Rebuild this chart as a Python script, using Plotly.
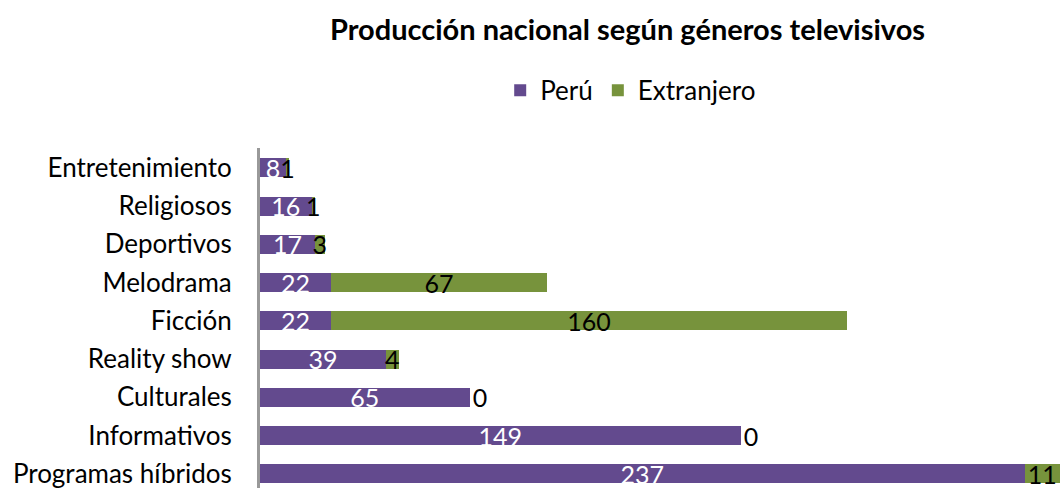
import plotly.graph_objects as go

categorias = ['Programas híbridos', 'Informativos', 'Culturales', 'Reality show', 'Ficción',
              'Melodrama', 'Deportivos', 'Religiosos', 'Entretenimiento']
peru = [237, 149, 65, 39, 22, 22, 17, 16, 8]
extranjero = [11, 0, 0, 4, 160, 67, 3, 1, 1]

FUENTE = 'Lato'
MORADO = '#634a8e'
VERDE = '#77933c'

# las barras de valor 0 no muestran texto 'inside', así que van 'outside'
pos_extranjero = ['inside' if v else 'outside' for v in extranjero]

fig = go.Figure()
fig.add_trace(go.Bar(
    y=categorias, x=peru, name='Perú', orientation='h',
    marker=dict(color=MORADO, line=dict(width=0)),
    text=peru, textposition='inside', insidetextanchor='middle', textangle=0,
    constraintext='none', textfont=dict(color='white', size=25, family=FUENTE),
    cliponaxis=False,
))
fig.add_trace(go.Bar(
    y=categorias, x=extranjero, name='Extranjero', orientation='h',
    marker=dict(color=VERDE, line=dict(width=0)),
    text=extranjero, textposition=pos_extranjero, insidetextanchor='middle', textangle=0,
    constraintext='none', textfont=dict(color='black', size=25, family=FUENTE),
    outsidetextfont=dict(color='black', size=25, family=FUENTE),
    cliponaxis=False,
))

fig.update_layout(
    barmode='stack',
    bargap=0.5,
    width=1060, height=488,
    title=dict(
        text='<b>Producción nacional según géneros televisivos</b>',
        x=0.592, xanchor='center', y=0.938, yanchor='middle',
        font=dict(size=29, color='black', family=FUENTE),
    ),
    legend=dict(
        orientation='h', x=0.595, xanchor='center', xref='container',
        y=0.815, yanchor='middle', yref='container',
        font=dict(size=26, color='black', family=FUENTE),
        itemwidth=30, traceorder='normal',
    ),
    plot_bgcolor='white', paper_bgcolor='white',
    margin=dict(l=260, r=0, t=148, b=0, autoexpand=False),
)
fig.update_xaxes(range=[0, 248], visible=False, automargin=False)
fig.update_yaxes(
    range=[-0.37, 8.52], showline=True, linecolor='#999999', linewidth=3,
    ticks='', tickfont=dict(size=26, color='black', family=FUENTE),
    ticklabelstandoff=20, automargin=False,
)

fig.write_html('out.html', config={'displayModeBar': False},
               post_script="document.body.style.margin='0';")
